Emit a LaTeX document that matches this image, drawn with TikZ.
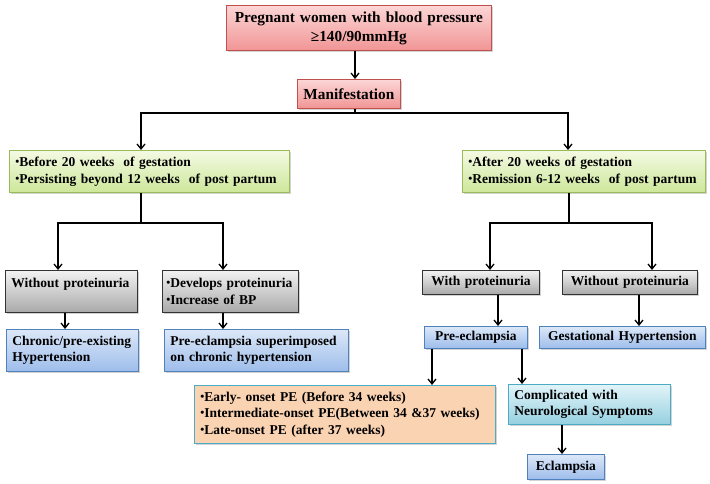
\documentclass[tikz,border=0pt]{standalone}
\usepackage{fontspec}
\setmainfont{Liberation Serif}
\usetikzlibrary{arrows.meta,shadows,calc}
\newcommand{\bul}{\raisebox{1.0pt}{\scalebox{0.85}{\textbullet}}}
\newcommand{\nohyph}{\hyphenpenalty=10000\relax}
\definecolor{pinkT}{HTML}{FCD6D6}
\definecolor{pinkB}{HTML}{F19595}
\definecolor{pinkD}{HTML}{C0504D}
\definecolor{grnT}{HTML}{F4FAE3}
\definecolor{grnB}{HTML}{CDE79A}
\definecolor{grnD}{HTML}{9BBB59}
\definecolor{gryT}{HTML}{F2F2F2}
\definecolor{gryB}{HTML}{A9A9A9}
\definecolor{bluT}{HTML}{DCE8F8}
\definecolor{bluB}{HTML}{9EBDEB}
\definecolor{bluD}{HTML}{4F81BD}
\definecolor{orgF}{HTML}{FAD3B3}
\definecolor{cyaT}{HTML}{E2F4F9}
\definecolor{cyaB}{HTML}{96D0E0}
\definecolor{cyaD}{HTML}{4BACC6}
\tikzset{
  x=1pt, y=-1pt,
  box/.style={anchor=north west, draw, line width=0.8pt, inner xsep=6pt, inner ysep=0pt,
    align=left, font=\fontsize{13.5}{16.7}\selectfont\bfseries\nohyph,
    drop shadow={shadow xshift=1.5pt, shadow yshift=-1.5pt, opacity=0.35}},
  pinkbox/.style={box, draw=pinkD, top color=pinkT, bottom color=pinkB},
  grnbox/.style={box, draw=grnD, top color=grnT, bottom color=grnB},
  grybox/.style={box, draw=black!80, top color=gryT, bottom color=gryB},
  blubox/.style={box, draw=bluD, top color=bluT, bottom color=bluB},
  orgbox/.style={box, draw=cyaD, fill=orgF},
  cyabox/.style={box, draw=cyaD, top color=cyaT, bottom color=cyaB},
  arr/.style={-{Straight Barb[length=5pt,width=8pt]}, line width=1.3pt},
  ln/.style={line width=1.3pt},
}
\begin{document}
\begin{tikzpicture}
\useasboundingbox (0,0) rectangle (710,484);
% boxes
\node[pinkbox, minimum width=265pt, minimum height=45pt, text width=253pt, align=center,
  font=\fontsize{15.3}{19}\selectfont\bfseries] (top) at (226,5)
  {Pregnant women with blood pressure\\ ≥140/90mmHg};
\node[pinkbox, minimum width=103pt, minimum height=29pt, text width=91pt, align=center,
  font=\fontsize{15.3}{19}\selectfont\bfseries] (man) at (297,79) {Manifestation};
\node[grnbox, minimum width=280pt, minimum height=42pt, text width=268pt] (lg) at (9,150)
  {\bul Before 20 weeks\ \ of gestation\\ \bul Persisting beyond 12 weeks\ \ of post partum};
\node[grnbox, minimum width=243pt, minimum height=42pt, text width=231pt] (rg) at (462,150)
  {\bul After 20 weeks of gestation\\ \bul Remission 6-12 weeks\ \ of post partum};
\node[grybox, minimum width=132pt, minimum height=42pt, text width=120pt] (g1) at (5,270)
  {Without proteinuria\\ \mbox{}};
\node[grybox, inner xsep=4pt, minimum width=136pt, minimum height=42pt, text width=128pt] (g2) at (162,270)
  {\bul Develops proteinuria\\ \bul Increase of BP};
\node[blubox, minimum width=132pt, minimum height=42pt, text width=120pt] (b1) at (6,329)
  {Chronic/pre-existing\\ Hypertension};
\node[blubox, minimum width=184pt, minimum height=42pt, text width=172pt] (b2) at (164,329)
  {Pre-eclampsia superimposed\\ on chronic hypertension};
\node[grybox, minimum width=117pt, minimum height=24pt, text width=105pt, align=center] (g3) at (422,270)
  {With proteinuria};
\node[grybox, minimum width=135pt, minimum height=24pt, text width=123pt, align=center] (g4) at (562,270)
  {Without proteinuria};
\node[blubox, minimum width=103pt, minimum height=22pt, text width=91pt, align=center] (b3) at (424,326)
  {Pre-eclampsia};
\node[blubox, minimum width=166pt, minimum height=22pt, text width=154pt, align=center] (b4) at (539,326)
  {Gestational Hypertension};
\node[orgbox, minimum width=301pt, minimum height=58pt, text width=289pt] (o1) at (194,385)
  {\bul Early- onset PE (Before 34 weeks)\\ \bul Intermediate-onset PE(Between 34 \&37 weeks)\\ \bul Late-onset PE (after 37 weeks)};
\node[cyabox, minimum width=162pt, minimum height=40pt, text width=150pt] (c1) at (508,384)
  {Complicated with\\ Neurological Symptoms};
\node[blubox, minimum width=77pt, minimum height=25pt, text width=65pt, align=center] (e1) at (527,454)
  {Eclampsia};
% junctions
\coordinate (j1) at (355,113);
\coordinate (j2) at (141,223);
\coordinate (j3) at (569,223);
% connectors
\draw[arr] (top.south -| j1) -- (man.north -| j1);
\draw[ln] (man.south -| j1) -- (j1);
\draw[arr] (j1) -| (lg.north -| 141,0);
\draw[arr] (j1) -| (rg.north -| 568,0);
\draw[ln] (lg.south -| j2) -- (j2);
\draw[arr] (j2) -| (g1.north -| 58,0);
\draw[arr] (j2) -| (g2.north -| 223,0);
\draw[ln] (rg.south -| j3) -- (j3);
\draw[arr] (j3) -| (g3.north -| 490,0);
\draw[arr] (j3) -| (g4.north -| 652,0);
\draw[arr] (g1.south -| 65,0) -- (b1.north -| 65,0);
\draw[arr] (g2.south -| 223,0) -- (b2.north -| 223,0);
\draw[arr] (g3.south -| 498,0) -- (b3.north -| 498,0);
\draw[arr] (g4.south -| 639,0) -- (b4.north -| 639,0);
\draw[arr] (b3.south -| 432,0) -- (o1.north -| 432,0);
\draw[arr] (b3.south -| 522,0) -- (c1.north -| 522,0);
\draw[arr] (c1.south -| 562,0) -- (e1.north -| 562,0);
\end{tikzpicture}
\end{document}
